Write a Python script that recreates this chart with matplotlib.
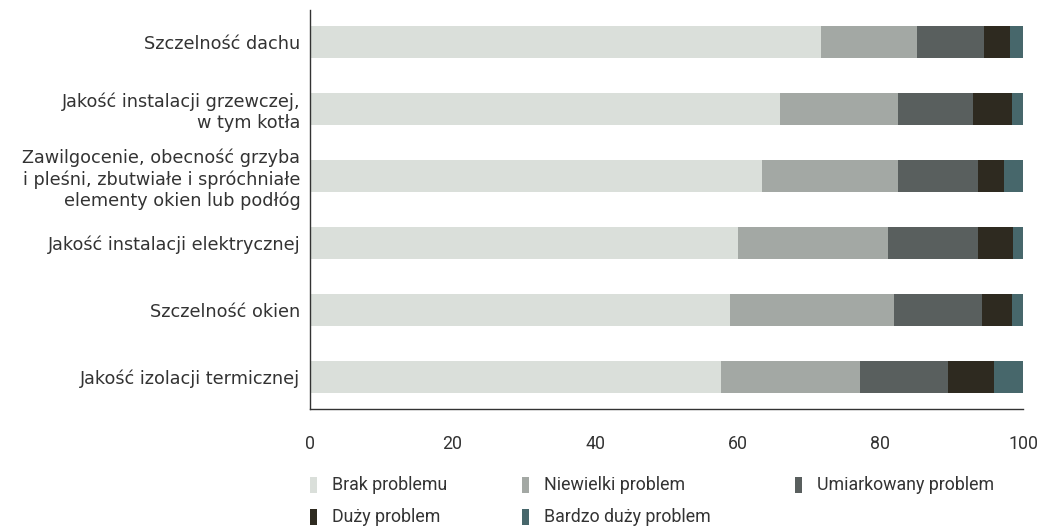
import matplotlib
matplotlib.use("Agg")
import matplotlib.pyplot as plt
from matplotlib.patches import Rectangle
from matplotlib.font_manager import FontProperties
import numpy as np

categories = [
    "Szczelność dachu",
    "Jakość instalacji grzewczej,\nw tym kotła",
    "Zawilgocenie, obecność grzyba\ni pleśni, zbutwiałe i spróchniałe\nelementy okien lub podłóg",
    "Jakość instalacji elektrycznej",
    "Szczelność okien",
    "Jakość izolacji termicznej",
]
series_names = ["Brak problemu", "Niewielki problem", "Umiarkowany problem",
                "Duży problem", "Bardzo duży problem"]
brak =        [71.6, 65.9, 63.4, 60.0, 58.9, 57.6]
niewielki =   [13.5, 16.5, 19.0, 21.1, 23.0, 19.5]
umiarkowany = [9.5, 10.6, 11.3, 12.6, 12.4, 12.4]
duzy =        [3.6, 5.4, 3.6, 4.9, 4.2, 6.5]
bardzo =      [1.8, 1.6, 2.7, 1.4, 1.5, 4.0]
x_ticks = [0, 20, 40, 60, 80, 100]
colors = ["#dadfda", "#a3a8a4", "#595f5e", "#2e2a20", "#47676b"]

label_fp = FontProperties(family="DejaVu Sans", size=12.7)
tick_font = ["Liberation Sans Narrow", "Roboto", "DejaVu Sans"]

fig = plt.figure(figsize=(10.47, 5.28), dpi=100)
ax = fig.add_axes([310/1047, 119/528, 713/1047, 399/528])

data = [brak, niewielki, umiarkowany, duzy, bardzo]
y = np.arange(len(categories))
left = np.zeros(len(categories))
for vals, c, name in zip(data, colors, series_names):
    ax.barh(y, vals, left=left, height=0.48, color=c, label=name)
    left += np.array(vals)

ax.set_xlim(0, 100)
ax.set_ylim(len(categories) - 1 + 0.478, -0.478)
ax.set_yticks(y)
ax.set_yticklabels(categories, color="#333333", linespacing=1.2)
for lbl in ax.get_yticklabels():
    lbl.set_fontproperties(label_fp)
ax.set_xticks(x_ticks)
ax.set_xticklabels([str(t) for t in x_ticks], fontfamily=tick_font,
                   fontsize=12.8, color="#333333")
ax.tick_params(axis="both", length=0)
ax.tick_params(axis="y", pad=7)
ax.tick_params(axis="x", pad=19)
for s in ["top", "right"]:
    ax.spines[s].set_visible(False)
for s in ["left", "bottom"]:
    ax.spines[s].set_color("#333333")
    ax.spines[s].set_linewidth(1.0)

# legend
W, H = 1047, 528
legend_pos = [(313, 485), (525, 485), (798, 485), (313, 517), (525, 517)]
for (px, py), c, name in zip(legend_pos, colors, series_names):
    fig.patches.append(Rectangle(((px - 3) / W, (H - py - 8) / H), 7 / W, 16 / H,
                                 transform=fig.transFigure, facecolor=c,
                                 edgecolor="none"))
    fig.text((px + 19) / W, (H - py) / H, name, fontfamily=tick_font,
             fontsize=12.8, color="#333333", va="center", ha="left")

fig.savefig("out.png", dpi=100)
